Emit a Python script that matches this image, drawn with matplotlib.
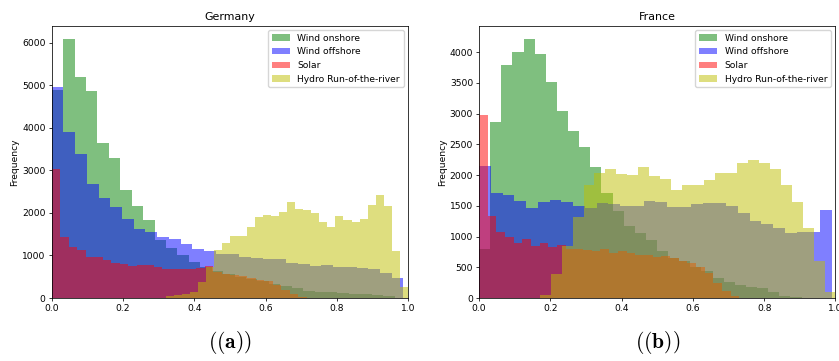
import numpy as np
import matplotlib
matplotlib.use("Agg")
import matplotlib.pyplot as plt

plt.rcParams['font.size'] = 6.6
plt.rcParams['axes.linewidth'] = 0.55
plt.rcParams['xtick.major.size'] = 2.3
plt.rcParams['ytick.major.size'] = 2.3
plt.rcParams['xtick.major.width'] = 0.55
plt.rcParams['ytick.major.width'] = 0.55
plt.rcParams['mathtext.fontset'] = 'cm'

labels = ['Wind onshore', 'Wind offshore', 'Solar', 'Hydro Run-of-the-river']
colors = ['g', 'b', 'r', 'y']

# capacity factor range (min, max) of each series, 30 bins each
de_ranges = [(0.0, 0.962), (0.0, 0.987), (0.0, 0.716), (0.32, 1.0)]
de_onshore = [4890, 6094, 5184, 4855, 3647, 3294, 2549, 2165, 1828, 1365,
              1184, 1010, 855, 720, 640, 560, 500, 440, 390, 330,
              282, 228, 160, 149, 130, 110, 94, 85, 78, 50]
de_offshore = [4950, 3890, 3372, 2682, 2345, 2134, 1866, 1631, 1553, 1435,
               1396, 1270, 1145, 1106, 1028, 1028, 972, 941, 918, 918,
               824, 792, 760, 785, 737, 733, 714, 675, 580, 463]
de_solar = [3035, 1443, 1200, 1130, 965, 960, 894, 824, 808, 760,
            765, 765, 729, 680, 682, 682, 682, 714, 753, 612,
            565, 540, 520, 471, 420, 390, 310, 190, 90, 30]
de_hydro = [55, 60, 94, 150, 384, 740, 1130, 1302, 1459, 1445,
            1678, 1898, 1953, 1925, 2024, 2251, 2087, 2063, 1992, 1796,
            1663, 1925, 1835, 1796, 1855, 2196, 2424, 2165, 1113, 266]

fr_ranges = [(0.0, 0.936), (0.0, 0.99), (0.0, 0.73), (0.078, 1.0)]
fr_onshore = [793, 2861, 3795, 4000, 4218, 3963, 3518, 3040, 2709, 2454,
              2128, 1715, 1417, 1173, 1064, 945, 765, 656, 607, 510,
              445, 330, 265, 212, 174, 163, 103, 38, 15, 5]
fr_offshore = [2150, 1710, 1667, 1575, 1471, 1558, 1590, 1558, 1498, 1471,
               1552, 1526, 1498, 1498, 1580, 1558, 1487, 1487, 1526, 1540,
               1552, 1498, 1390, 1260, 1200, 1135, 1053, 1080, 1080, 1433]
fr_solar = [2970, 1340, 1070, 998, 890, 960, 847, 890, 836, 863,
            800, 793, 782, 770, 790, 738, 760, 727, 700, 700,
            673, 685, 646, 608, 565, 510, 400, 250, 120, 35]
fr_hydro = [3, 2, 4, 49, 390, 850, 1324, 1830, 2030, 2101,
            2014, 2000, 2133, 1976, 1938, 1764, 1845, 1845, 1922, 2030,
            2030, 2193, 2247, 2193, 2095, 1830, 1569, 1135, 600, 103]

countries = [
    ('Germany', de_ranges, [de_onshore, de_offshore, de_solar, de_hydro], r'$\mathbf{((a))}$'),
    ('France', fr_ranges, [fr_onshore, fr_offshore, fr_solar, fr_hydro], r'$\mathbf{((b))}$'),
]

fig = plt.figure(figsize=(8.39, 3.61), dpi=100)
lefts = [0.0616, 0.571]
for (title, ranges, series, cap), left in zip(countries, lefts):
    ax = fig.add_axes([left, 0.1745, 0.4248, 0.7545])
    for (lo, hi), counts, lab, col in zip(ranges, series, labels, colors):
        edges = np.linspace(lo, hi, len(counts) + 1)
        centers = (edges[:-1] + edges[1:]) / 2
        ax.hist(centers, bins=edges, weights=counts, color=col, alpha=0.5, label=lab)
    ax.set_xlim(0, 1)
    ax.set_title(title, pad=4)
    ax.set_ylabel('Frequency', labelpad=2)
    ax.tick_params(pad=2)
    ax.legend(loc='upper right')
    fig.text(left + 0.2124, 0.05, cap, ha='center', va='center', fontsize=15.5)

fig.savefig('out.png', dpi=100)
